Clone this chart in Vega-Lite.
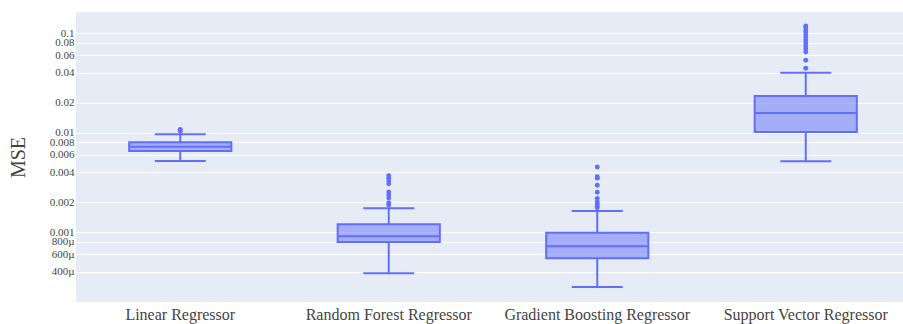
{
  "$schema": "https://vega.github.io/schema/vega-lite/v6.json",
  "autosize": "none",
  "padding": {"left": 76, "top": 12, "right": 0, "bottom": 22},
  "width": 827,
  "height": 290,
  "background": "white",
  "config": {
    "view": {"fill": "#E5ECF6", "stroke": null},
    "font": "Liberation Serif"
  },
  "datasets": {
    "stats": [
      {"model": "Linear Regressor", "lower": 0.00517, "q1": 0.00652, "median": 0.0072, "q3": 0.00797, "upper": 0.00959},
      {"model": "Random Forest Regressor", "lower": 0.000385, "q1": 0.000793, "median": 0.000905, "q3": 0.001195, "upper": 0.00173},
      {"model": "Gradient Boosting Regressor", "lower": 0.00028, "q1": 0.000544, "median": 0.000718, "q3": 0.000984, "upper": 0.001626},
      {"model": "Support Vector Regressor", "lower": 0.00514, "q1": 0.0101, "median": 0.0157, "q3": 0.0233, "upper": 0.0399}
    ],
    "outliers": [
      {"model": "Linear Regressor", "mse": 0.01076},
      {"model": "Linear Regressor", "mse": 0.0103},
      {"model": "Random Forest Regressor", "mse": 0.00368},
      {"model": "Random Forest Regressor", "mse": 0.00348},
      {"model": "Random Forest Regressor", "mse": 0.00325},
      {"model": "Random Forest Regressor", "mse": 0.00305},
      {"model": "Random Forest Regressor", "mse": 0.00253},
      {"model": "Random Forest Regressor", "mse": 0.00236},
      {"model": "Random Forest Regressor", "mse": 0.0022},
      {"model": "Random Forest Regressor", "mse": 0.00196},
      {"model": "Random Forest Regressor", "mse": 0.00187},
      {"model": "Gradient Boosting Regressor", "mse": 0.0045},
      {"model": "Gradient Boosting Regressor", "mse": 0.0036},
      {"model": "Gradient Boosting Regressor", "mse": 0.00348},
      {"model": "Gradient Boosting Regressor", "mse": 0.00295},
      {"model": "Gradient Boosting Regressor", "mse": 0.00251},
      {"model": "Gradient Boosting Regressor", "mse": 0.00218},
      {"model": "Gradient Boosting Regressor", "mse": 0.002},
      {"model": "Gradient Boosting Regressor", "mse": 0.00191},
      {"model": "Gradient Boosting Regressor", "mse": 0.00182},
      {"model": "Gradient Boosting Regressor", "mse": 0.00175},
      {"model": "Support Vector Regressor", "mse": 0.1176},
      {"model": "Support Vector Regressor", "mse": 0.1123},
      {"model": "Support Vector Regressor", "mse": 0.1047},
      {"model": "Support Vector Regressor", "mse": 0.0977},
      {"model": "Support Vector Regressor", "mse": 0.0911},
      {"model": "Support Vector Regressor", "mse": 0.085},
      {"model": "Support Vector Regressor", "mse": 0.0793},
      {"model": "Support Vector Regressor", "mse": 0.074},
      {"model": "Support Vector Regressor", "mse": 0.069},
      {"model": "Support Vector Regressor", "mse": 0.0644},
      {"model": "Support Vector Regressor", "mse": 0.0532},
      {"model": "Support Vector Regressor", "mse": 0.0442}
    ]
  },
  "encoding": {
    "x": {
      "field": "model",
      "type": "nominal",
      "sort": null,
      "scale": {"type": "band", "range": [0, 834], "paddingInner": 0, "paddingOuter": 0,
        "domain": ["Linear Regressor", "Random Forest Regressor", "Gradient Boosting Regressor", "Support Vector Regressor"]},
      "axis": {
        "title": null, "labelAngle": 0, "labelFontSize": 16, "labelColor": "#444", "labelFont": "Liberation Serif",
        "domain": false, "ticks": false, "labelPadding": 4, "grid": false, "labelLimit": 0, "labelOverlap": false
      }
    }
  },
  "layer": [
    {
      "data": {"name": "stats"},
      "mark": {"type": "rule", "color": "#636EFA", "strokeWidth": 2},
      "encoding": {
        "y": {
          "field": "lower", "type": "quantitative",
          "scale": {"type": "log", "domain": [0.000198, 0.1626], "nice": false, "zero": false},
          "axis": {
            "title": "MSE", "titleFontSize": 20, "titleColor": "#444", "titleFont": "Liberation Serif", "titleFontWeight": "normal",
            "titlePadding": 21,
            "values": [0.0004, 0.0006, 0.0008, 0.001, 0.002, 0.004, 0.006, 0.008, 0.01, 0.02, 0.04, 0.06, 0.08, 0.1],
            "labelExpr": "datum.value < 0.00095 ? format(datum.value * 1000000, 'd') + 'µ' : format(datum.value, '~g')",
            "labelFontSize": 11, "labelColor": "#444", "labelFont": "Liberation Serif",
            "labelOverlap": false, "labelPadding": 2, "labelBound": false,
            "ticks": false, "domain": false, "grid": true, "gridColor": "white", "gridWidth": 1, "gridOpacity": 1
          }
        },
        "y2": {"field": "q1"}
      }
    },
    {
      "data": {"name": "stats"},
      "mark": {"type": "rule", "color": "#636EFA", "strokeWidth": 2},
      "encoding": {
        "y": {"field": "q3", "type": "quantitative"},
        "y2": {"field": "upper"}
      }
    },
    {
      "data": {"name": "stats"},
      "mark": {"type": "bar", "width": {"band": 0.49}, "fill": "#636EFA", "fillOpacity": 0.5, "stroke": "#636EFA", "strokeWidth": 2},
      "encoding": {
        "y": {"field": "q1", "type": "quantitative"},
        "y2": {"field": "q3"}
      }
    },
    {
      "data": {"name": "stats"},
      "mark": {"type": "tick", "color": "#636EFA", "size": 102, "thickness": 2, "opacity": 1},
      "encoding": {"y": {"field": "median", "type": "quantitative"}}
    },
    {
      "data": {"name": "stats"},
      "mark": {"type": "tick", "color": "#636EFA", "size": 51, "thickness": 2, "opacity": 1},
      "encoding": {"y": {"field": "lower", "type": "quantitative"}}
    },
    {
      "data": {"name": "stats"},
      "mark": {"type": "tick", "color": "#636EFA", "size": 51, "thickness": 2, "opacity": 1},
      "encoding": {"y": {"field": "upper", "type": "quantitative"}}
    },
    {
      "data": {"name": "outliers"},
      "mark": {"type": "circle", "color": "#636EFA", "size": 24, "opacity": 1},
      "encoding": {"y": {"field": "mse", "type": "quantitative"}}
    }
  ]
}
